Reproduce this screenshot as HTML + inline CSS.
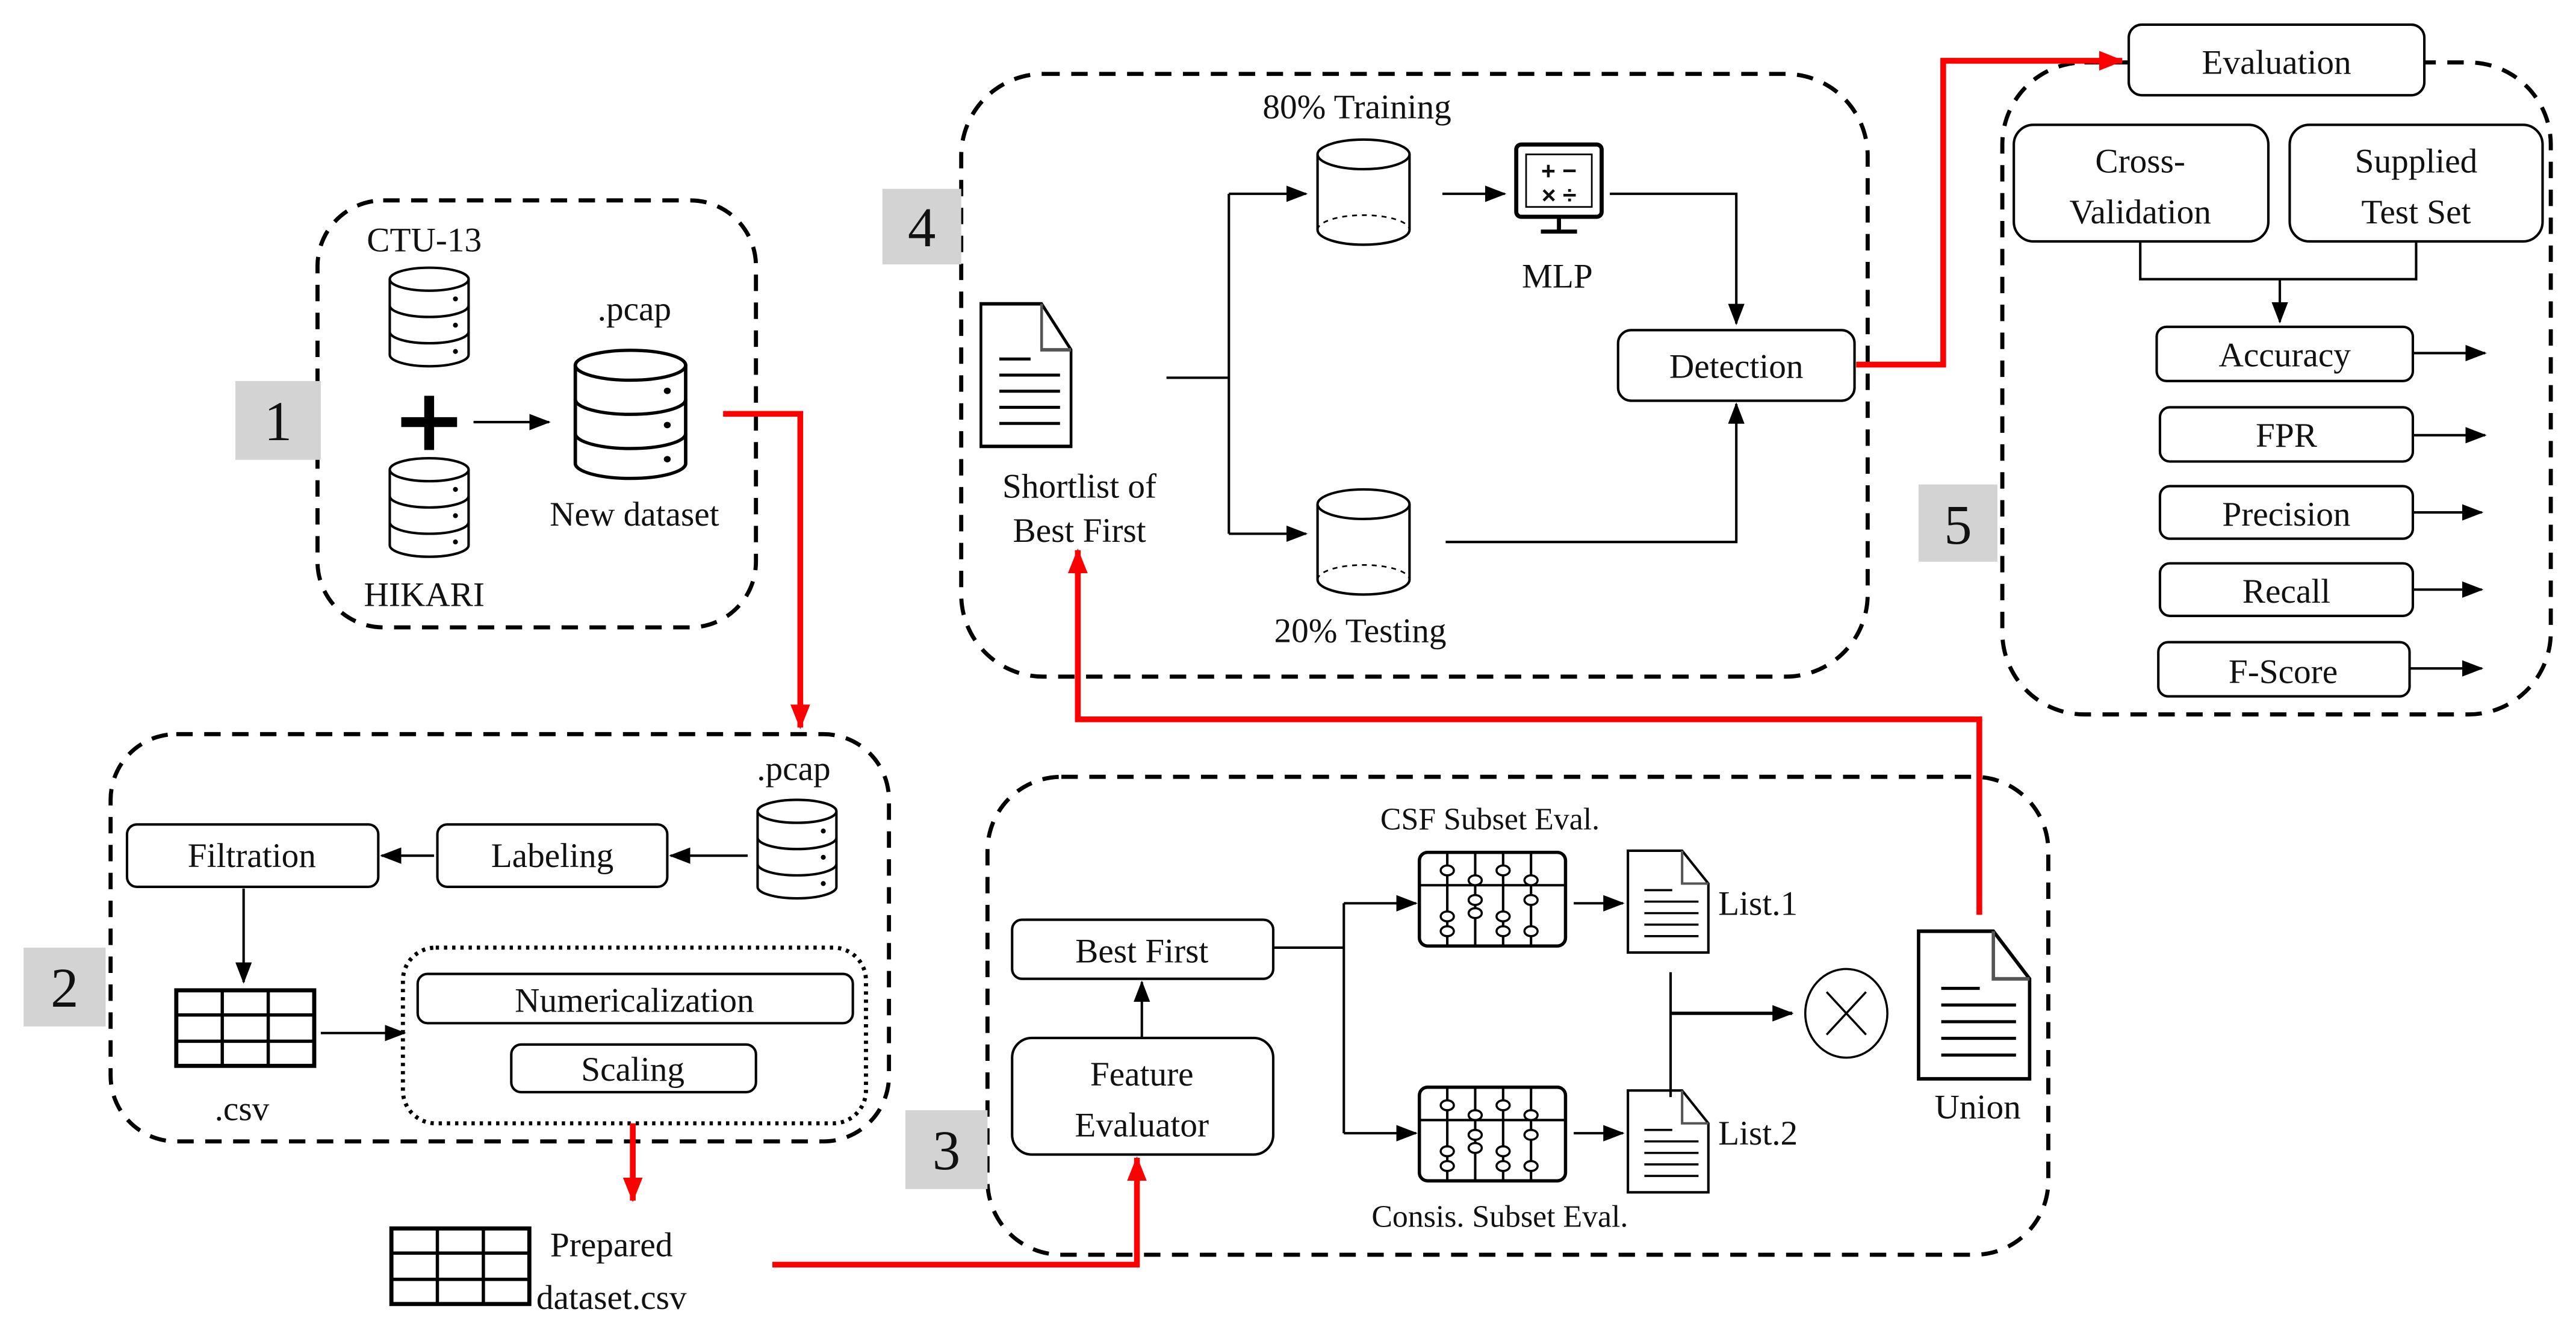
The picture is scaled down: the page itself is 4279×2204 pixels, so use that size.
<!DOCTYPE html>
<html><head><meta charset="utf-8"><style>
html,body{margin:0;padding:0;background:#fff;}
svg{display:block;}
text{font-family:"Liberation Serif",serif;font-size:21px;fill:#111;}
</style></head><body>
<svg width="4279" height="2204" viewBox="0 0 1568 808" xmlns="http://www.w3.org/2000/svg">
<defs>
<marker id="a" markerWidth="14" markerHeight="12" refX="12" refY="6" orient="auto" markerUnits="userSpaceOnUse"><path d="M0,1 L13,6 L0,11 z" fill="#000"/></marker>
<marker id="r" markerWidth="16" markerHeight="14" refX="14" refY="7" orient="auto" markerUnits="userSpaceOnUse"><path d="M0,1 L15,7 L0,13 z" fill="#f00"/></marker>
<g id="db"><path d="M0,8 V54 A24,7 0 0 0 48,54 V8" fill="#fff" stroke="#000" stroke-width="1.5"/><ellipse cx="24" cy="8" rx="24" ry="7" fill="#fff" stroke="#000" stroke-width="1.5"/><path d="M0,24 A24,7 0 0 0 48,24 M0,40 A24,7 0 0 0 48,40" fill="none" stroke="#000" stroke-width="1.5"/><circle cx="40" cy="20" r="1.5"/><circle cx="40" cy="36" r="1.5"/><circle cx="40" cy="52" r="1.5"/></g>
<g id="cyl"><path d="M0,10 V56 A28,9 0 0 0 56,56 V10" fill="#fff" stroke="#000" stroke-width="1.5"/><ellipse cx="28" cy="10" rx="28" ry="9" fill="#fff" stroke="#000" stroke-width="1.5"/><path d="M0,56 A28,9 0 0 1 56,56" fill="none" stroke="#000" stroke-width="1" stroke-dasharray="3,3"/></g>
<g id="doc"><path d="M0,0 H33 L49,20 V62 H0 z" fill="#fff" stroke="#000" stroke-width="1.5"/><path d="M33,0 V20 H49" fill="none" stroke="#555" stroke-width="1.5"/><path d="M10,24 H27 M10,31 H43 M10,38 H43 M10,45 H43 M10,52 H43" stroke="#000" stroke-width="1.3"/></g>
<g id="tbl"><rect x="0" y="0" width="84" height="46" fill="#fff" stroke="#000" stroke-width="2.5"/><path d="M28,0 V46 M56,0 V46 M0,15 H84 M0,31 H84" stroke="#000" stroke-width="2"/></g>
<g id="abc"><rect x="0" y="0" width="89" height="57" rx="5" fill="#fff" stroke="#000" stroke-width="2"/><path d="M0,20 H89 M17,0 V57 M34,0 V57 M51,0 V57 M68,0 V57" stroke="#000" stroke-width="1.5"/><g fill="#fff" stroke="#000" stroke-width="1.3"><ellipse cx="17" cy="11" rx="4" ry="3"/><ellipse cx="34" cy="17" rx="4" ry="3"/><ellipse cx="51" cy="11" rx="4" ry="3"/><ellipse cx="68" cy="17" rx="4" ry="3"/><ellipse cx="34" cy="29" rx="4" ry="3"/><ellipse cx="68" cy="29" rx="4" ry="3"/><ellipse cx="17" cy="39" rx="4" ry="3"/><ellipse cx="34" cy="37" rx="4" ry="3"/><ellipse cx="51" cy="39" rx="4" ry="3"/><ellipse cx="17" cy="48" rx="4" ry="3"/><ellipse cx="51" cy="48" rx="4" ry="3"/><ellipse cx="68" cy="48" rx="4" ry="3"/></g></g>
</defs>
<rect width="1568" height="808" fill="#fff"/>
<g fill="none" stroke="#000" stroke-width="2.5" stroke-dasharray="10,7">
<rect x="193" y="122" width="267" height="260" rx="40"/>
<rect x="67" y="447" width="474" height="248" rx="40"/>
<rect x="601" y="473" width="646" height="291" rx="45"/>
<rect x="585" y="45" width="552" height="367" rx="50"/>
<rect x="1219" y="38" width="334" height="397" rx="50"/>
</g>
<g fill="#d3d3d3"><rect x="143" y="232" width="52" height="48"/><rect x="14" y="577" width="50" height="48"/><rect x="551" y="676" width="50" height="48"/><rect x="537" y="115" width="48" height="46"/><rect x="1168" y="295" width="48" height="47"/></g>
<g style="font-size:34px"><text x="169" y="268" text-anchor="middle" style="font-size:34px">1</text><text x="39" y="613" text-anchor="middle" style="font-size:34px">2</text><text x="576" y="712" text-anchor="middle" style="font-size:34px">3</text><text x="561" y="150" text-anchor="middle" style="font-size:34px">4</text><text x="1192" y="331" text-anchor="middle" style="font-size:34px">5</text></g>
<!-- box1 -->
<text x="258" y="153" text-anchor="middle">CTU-13</text>
<use href="#db" x="237" y="162"/><use href="#db" x="237" y="278"/>
<path d="M261,241 V274 M244,257 H278" stroke="#000" stroke-width="6"/>
<line x1="288" y1="257" x2="334" y2="257" stroke="#000" stroke-width="1.5" marker-end="url(#a)"/>
<text x="386" y="195" text-anchor="middle">.pcap</text>
<g transform="translate(350,212) scale(1.4,1.3)"><use href="#db"/></g>
<text x="386" y="320" text-anchor="middle">New dataset</text>
<text x="258" y="369" text-anchor="middle">HIKARI</text>
<polyline points="440,252 487,252 487,443" fill="none" stroke="#f00" stroke-width="3.5" marker-end="url(#r)"/>
<!-- box2 -->
<g fill="#fff" stroke="#000" stroke-width="1.5"><rect x="77" y="502" width="153" height="38" rx="6"/><rect x="266" y="502" width="140" height="38" rx="6"/></g>
<text x="153" y="528" text-anchor="middle">Filtration</text><text x="336" y="528" text-anchor="middle">Labeling</text>
<text x="483" y="475" text-anchor="middle">.pcap</text>
<use href="#db" x="461" y="486"/>
<line x1="455" y1="521" x2="408" y2="521" stroke="#000" stroke-width="1.5" marker-end="url(#a)"/>
<line x1="264" y1="521" x2="232" y2="521" stroke="#000" stroke-width="1.5" marker-end="url(#a)"/>
<line x1="148" y1="541" x2="148" y2="598" stroke="#000" stroke-width="1.5" marker-end="url(#a)"/>
<use href="#tbl" x="107" y="603"/>
<text x="147" y="682" text-anchor="middle">.csv</text>
<line x1="195" y1="629" x2="246" y2="629" stroke="#000" stroke-width="1.5" marker-end="url(#a)"/>
<rect x="245" y="577" width="282" height="107" rx="20" fill="none" stroke="#000" stroke-width="2.5" stroke-dasharray="2,3"/>
<g fill="#fff" stroke="#000" stroke-width="1.5"><rect x="254" y="593" width="265" height="30" rx="6"/><rect x="311" y="636" width="149" height="29" rx="6"/></g>
<text x="386" y="616" text-anchor="middle">Numericalization</text><text x="385" y="658" text-anchor="middle">Scaling</text>
<line x1="385" y1="684" x2="385" y2="731" stroke="#f00" stroke-width="3.5" marker-end="url(#r)"/>
<use href="#tbl" x="238" y="748"/>
<text x="372" y="765" text-anchor="middle">Prepared</text><text x="372" y="797" text-anchor="middle">dataset.csv</text>
<polyline points="470,770 692,770 692,705" fill="none" stroke="#f00" stroke-width="3.5" marker-end="url(#r)"/>
<!-- box3 -->
<g fill="#fff" stroke="#000" stroke-width="1.5"><rect x="616" y="632" width="159" height="71" rx="12"/><rect x="616" y="560" width="159" height="36" rx="6"/></g>
<text x="695" y="661" text-anchor="middle">Feature</text><text x="695" y="692" text-anchor="middle">Evaluator</text>
<text x="695" y="586" text-anchor="middle">Best First</text>
<line x1="695" y1="632" x2="695" y2="598" stroke="#000" stroke-width="1.5" marker-end="url(#a)"/>
<path d="M775,577 H818 M818,550 V690" stroke="#000" stroke-width="1.5"/>
<line x1="818" y1="550" x2="862" y2="550" stroke="#000" stroke-width="1.5" marker-end="url(#a)"/>
<line x1="818" y1="690" x2="862" y2="690" stroke="#000" stroke-width="1.5" marker-end="url(#a)"/>
<text x="907" y="505" text-anchor="middle" style="font-size:19px">CSF Subset Eval.</text>
<use href="#abc" x="864" y="519"/><use href="#abc" x="864" y="662"/>
<text x="913" y="747" text-anchor="middle" style="font-size:19px">Consis. Subset Eval.</text>
<line x1="958" y1="550" x2="988" y2="550" stroke="#000" stroke-width="1.5" marker-end="url(#a)"/>
<line x1="958" y1="690" x2="988" y2="690" stroke="#000" stroke-width="1.5" marker-end="url(#a)"/>
<use href="#doc" x="991" y="518"/><use href="#doc" x="991" y="664"/>
<text x="1046" y="557">List.1</text><text x="1046" y="697">List.2</text>
<path d="M1017,592 V668 M1017,617 H1060" stroke="#000" stroke-width="1.5"/>
<line x1="1017" y1="617" x2="1091" y2="617" stroke="#000" stroke-width="2" marker-end="url(#a)"/>
<ellipse cx="1124" cy="617" rx="25" ry="27" fill="none" stroke="#000" stroke-width="1.3"/>
<path d="M1112,604 L1136,630 M1136,604 L1112,630" stroke="#000" stroke-width="1.3"/>
<g transform="translate(1168,567) scale(1.38,1.45)"><use href="#doc"/></g>
<text x="1204" y="681" text-anchor="middle">Union</text>
<polyline points="1205,557 1205,438 656,438 656,335" fill="none" stroke="#f00" stroke-width="3.5" marker-end="url(#r)"/>
<!-- box4 -->
<g transform="translate(597,185) scale(1.12,1.4)"><use href="#doc"/></g>
<text x="657" y="303" text-anchor="middle">Shortlist of</text><text x="657" y="330" text-anchor="middle">Best First</text>
<path d="M710,230 H748 M748,118 V325" stroke="#000" stroke-width="1.5"/>
<line x1="748" y1="118" x2="795" y2="118" stroke="#000" stroke-width="1.5" marker-end="url(#a)"/>
<line x1="748" y1="325" x2="795" y2="325" stroke="#000" stroke-width="1.5" marker-end="url(#a)"/>
<text x="826" y="72" text-anchor="middle">80% Training</text>
<use href="#cyl" x="802" y="84"/><use href="#cyl" x="802" y="297"/>
<text x="828" y="391" text-anchor="middle">20% Testing</text>
<line x1="878" y1="118" x2="916" y2="118" stroke="#000" stroke-width="1.5" marker-end="url(#a)"/>
<rect x="923" y="88" width="52" height="44" rx="3" fill="#fff" stroke="#000" stroke-width="2.5"/>
<rect x="929" y="94" width="40" height="32" fill="#fff" stroke="#000" stroke-width="1"/>
<text x="949" y="109" text-anchor="middle" style="font-size:15px;font-family:'Liberation Sans',sans-serif;font-weight:bold">+ −</text>
<text x="949" y="124" text-anchor="middle" style="font-size:15px;font-family:'Liberation Sans',sans-serif;font-weight:bold">× ÷</text>
<path d="M949,132 V140 M938,141 H960" stroke="#000" stroke-width="2.5"/>
<text x="948" y="175" text-anchor="middle">MLP</text>
<polyline points="980,118 1057,118 1057,197" fill="none" stroke="#000" stroke-width="1.5" marker-end="url(#a)"/>
<polyline points="880,330 1057,330 1057,246" fill="none" stroke="#000" stroke-width="1.5" marker-end="url(#a)"/>
<rect x="985" y="201" width="144" height="43" rx="8" fill="#fff" stroke="#000" stroke-width="1.5"/>
<text x="1057" y="230" text-anchor="middle">Detection</text>
<polyline points="1130,222 1183,222 1183,37 1292,37" fill="none" stroke="#f00" stroke-width="3.5" marker-end="url(#r)"/>
<!-- box5 -->
<g fill="#fff" stroke="#000" stroke-width="1.5">
<rect x="1296" y="15" width="180" height="43" rx="8"/>
<rect x="1226" y="76" width="155" height="71" rx="12"/><rect x="1394" y="76" width="154" height="71" rx="12"/>
<rect x="1313" y="199" width="156" height="33" rx="6"/><rect x="1315" y="248" width="154" height="33" rx="6"/><rect x="1315" y="296" width="154" height="32" rx="6"/><rect x="1315" y="343" width="154" height="32" rx="6"/><rect x="1314" y="391" width="153" height="33" rx="6"/>
</g>
<text x="1386" y="45" text-anchor="middle">Evaluation</text>
<text x="1303" y="105" text-anchor="middle">Cross-</text><text x="1303" y="136" text-anchor="middle">Validation</text>
<text x="1471" y="105" text-anchor="middle">Supplied</text><text x="1471" y="136" text-anchor="middle">Test Set</text>
<path d="M1303,147 V170 H1471 V147" fill="none" stroke="#000" stroke-width="1.5"/>
<line x1="1388" y1="170" x2="1388" y2="196" stroke="#000" stroke-width="1.5" marker-end="url(#a)"/>
<text x="1391" y="223" text-anchor="middle">Accuracy</text><text x="1392" y="272" text-anchor="middle">FPR</text><text x="1392" y="320" text-anchor="middle">Precision</text><text x="1392" y="367" text-anchor="middle">Recall</text><text x="1390" y="416" text-anchor="middle">F-Score</text>
<g stroke="#000" stroke-width="1.5">
<line x1="1469" y1="215" x2="1513" y2="215" marker-end="url(#a)"/>
<line x1="1469" y1="265" x2="1513" y2="265" marker-end="url(#a)"/>
<line x1="1469" y1="312" x2="1511" y2="312" marker-end="url(#a)"/>
<line x1="1469" y1="359" x2="1511" y2="359" marker-end="url(#a)"/>
<line x1="1467" y1="407" x2="1511" y2="407" marker-end="url(#a)"/>
</g>
</svg>
</body></html>
